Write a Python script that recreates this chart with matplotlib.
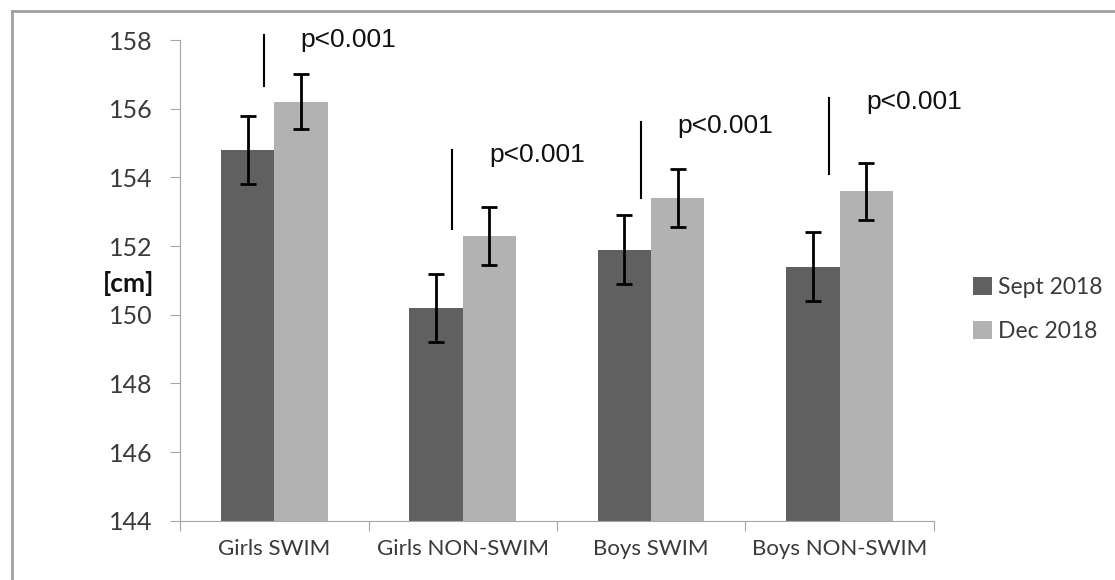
import matplotlib.pyplot as plt
import numpy as np
from matplotlib.lines import Line2D

# -- Datos --------------------------------------------------------------------
groups = ["Girls SWIM", "Girls NON-SWIM", "Boys SWIM", "Boys NON-SWIM"]
series = ["Sept 2018", "Dec 2018"]
sept_mean = [154.8, 150.2, 151.9, 151.4]
sept_err = [1.0, 1.0, 1.0, 1.0]
dec_mean = [156.2, 152.3, 153.4, 153.6]
dec_err = [0.8, 0.85, 0.85, 0.83]
p_labels = ["p<0.001", "p<0.001", "p<0.001", "p<0.001"]
# extremos de la linea vertical de significacion (cm)
sig_top = [158.15, 154.8, 155.6, 156.3]
sig_bottom = [156.65, 152.5, 153.4, 154.1]
p_text_y = [158.0, 154.65, 155.5, 156.2]

plt.rcParams["font.family"] = ["Lato", "DejaVu Sans"]

fig = plt.figure(figsize=(11.15, 5.8), dpi=100)
ax = fig.add_axes([0.1615, 0.102, 0.676, 0.829])

x = np.arange(len(groups))
w = 0.283
dark = "#606060"
light = "#b2b2b2"
txt = "#3a3a3a"

ax.bar(x - w / 2, np.array(sept_mean) - 144, w, bottom=144, color=dark, label=series[0])
ax.bar(x + w / 2, np.array(dec_mean) - 144, w, bottom=144, color=light, label=series[1])
ax.errorbar(x - w / 2, sept_mean, yerr=sept_err, fmt="none", ecolor="black",
            elinewidth=2, capsize=6, capthick=2)
ax.errorbar(x + w / 2, dec_mean, yerr=dec_err, fmt="none", ecolor="black",
            elinewidth=2, capsize=6, capthick=2)

for i in range(len(groups)):
    ax.add_line(Line2D([x[i] - 0.055, x[i] - 0.055], [sig_bottom[i], sig_top[i]],
                       color="black", lw=1.5, clip_on=False))
    ax.text(x[i] + 0.14, p_text_y[i], p_labels[i], fontsize=19,
            family="Liberation Sans", va="center", ha="left", color="#111111")

ax.set_xlim(-0.5, 3.5)
ax.set_ylim(144, 158)
ax.set_yticks(np.arange(144, 159, 2))
ax.set_xticks(np.arange(-0.5, 4.0, 1.0), minor=False)
ax.set_xticklabels([])
ax.set_xticks(x, minor=True)
ax.set_xticklabels(groups, minor=True, fontsize=16, color=txt)
ax.tick_params(axis="x", which="minor", length=0, pad=13)
ax.tick_params(axis="x", which="major", length=7, color="#a6a6a6", direction="out")
ax.tick_params(axis="y", length=7, color="#a6a6a6", labelsize=18,
               labelcolor=txt, pad=13, direction="out")

for s in ["top", "right"]:
    ax.spines[s].set_visible(False)
ax.spines["left"].set_color("#a6a6a6")
ax.spines["bottom"].set_color("#a6a6a6")

ax.set_ylabel("[cm]", fontsize=19, fontweight="bold", rotation=0, color="#111111")
ax.yaxis.set_label_coords(-0.068, 0.467)

ax.legend(loc="center left", bbox_to_anchor=(1.025, 0.44), frameon=False,
          fontsize=16.5, handlelength=0.8, handleheight=0.8, labelspacing=1.0,
          handletextpad=0.3, labelcolor=txt)

# borde del recorte original
fig.add_artist(Line2D([0.0105, 0.0105], [0, 0.981], color="#a0a0a0", lw=2))
fig.add_artist(Line2D([0.0105, 1.0], [0.981, 0.981], color="#a0a0a0", lw=2))

fig.savefig("out.png", dpi=100)
